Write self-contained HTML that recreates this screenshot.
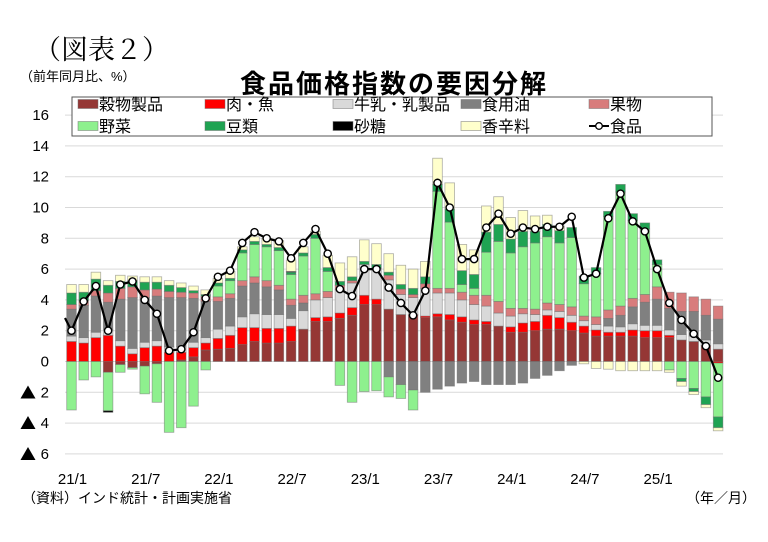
<!DOCTYPE html>
<html><head><meta charset="utf-8">
<style>
html,body{margin:0;padding:0;background:#fff;}
body{width:768px;height:542px;overflow:hidden;position:relative;font-family:"Liberation Sans","Noto Sans CJK JP",sans-serif;}
.t{position:absolute;white-space:nowrap;color:#000;}
</style></head>
<body>
<div class="t" style="left:34px;top:28px;font-size:27px;font-family:'Liberation Serif','Noto Serif CJK SC',serif;">（図表２）</div>
<div class="t" style="left:20px;top:66px;font-size:13px;">（前年同月比、%）</div>
<div class="t" style="left:240px;top:64px;font-size:26px;letter-spacing:2px;font-weight:bold;">食品価格指数の要因分解</div>
<svg id="c" width="768" height="542" style="position:absolute;left:0;top:0" xmlns="http://www.w3.org/2000/svg"></svg>
<div class="t" style="left:22px;top:488px;font-size:14px;">（資料）インド統計・計画実施省</div>
<div class="t" style="left:686px;top:488px;font-size:14px;">（年／月）</div>
<script>
var NS="http://www.w3.org/2000/svg",svg=document.getElementById('c');
function el(n,a,txt){var e=document.createElementNS(NS,n);for(var k in a)e.setAttribute(k,a[k]);if(txt!=null)e.textContent=txt;svg.appendChild(e);return e;}
function Y(v){return 361.5-v*15.4;}
function X(i){return 71.5+i*12.2;}
for(var v=-6;v<=16;v+=2){el('line',{x1:65,x2:723,y1:Y(v),y2:Y(v),stroke:'#d9d9d9','stroke-width':1});
 if(v<0){el('text',{x:36,y:Y(v)+6,'font-size':16,'text-anchor':'end','font-family':'Noto Sans CJK JP,sans-serif'},'▲');
  el('text',{x:49,y:Y(v)+5,'font-size':15,'text-anchor':'end','font-family':'Liberation Sans,sans-serif'},String(-v));}
 else el('text',{x:49,y:Y(v)+5,'font-size':15,'text-anchor':'end','font-family':'Liberation Sans,sans-serif'},String(v));}
var cols=['#953735','#ff0000','#d9d9d9','#808080','#d87c7c','#8ef08e','#1fa352','#000000','#ffffcc'];
var D=[
[0,1.3,.35,1.75,.3,-3.15,.75,0,.55],[0,1.2,.35,2.1,.3,-1.2,.55,0,.5],[0,1.55,.35,2.35,.35,-1.0,.75,0,.45],
[-.7,1.7,.35,1.8,.6,-2.5,.5,-.1,.3],[-.2,1.0,.35,2.7,.7,-.5,.45,0,.4],[-.4,.5,.35,3.3,.7,-.1,.4,0,.3],
[-.3,.9,.35,2.9,.5,-1.8,.5,0,.35],[-.15,1.0,.35,2.9,.45,-2.5,.45,0,.35],[0,.6,.35,3.2,.4,-4.6,.4,0,.3],
[.1,.5,.35,3.2,.35,-4.3,.3,0,.3],[.3,.6,.35,2.85,.35,-2.9,.15,0,.3],[.75,.45,.35,2.35,.35,-.55,.1,0,.3],
[.8,.7,.6,1.8,.3,.7,.2,0,.3],[.85,.85,.6,1.8,.3,.85,.15,0,.45],[1.1,1.1,.7,2.0,.35,1.8,.2,0,.2],
[1.3,.9,.9,2.0,.4,2.1,.2,0,.3],[1.2,.95,.9,1.8,.4,2.2,.15,0,.4],[1.2,.95,.9,1.6,.3,2.25,.2,0,.45],
[1.3,1.0,.5,.85,.4,1.6,.15,.05,.75],[2.1,0,1.2,.5,.5,2.55,.2,0,.4],[2.6,.25,1.15,0,.4,3.6,.25,0,.2],
[2.6,.3,1.25,0,.4,1.3,.25,0,.8],[2.8,.35,1.5,0,.3,-1.55,.25,0,1.2],[3.0,.5,1.6,0,.15,-2.65,.25,0,1.3],
[3.7,.6,2.0,0,0,-1.95,.2,0,1.4],[3.7,.35,2.0,0,0,-1.9,.25,0,1.35],[3.4,0,1.9,-1.0,.3,-1.3,.2,0,1.2],
[3.05,0,1.3,-1.5,.35,-.9,.3,0,1.25],[3.0,.05,1.1,-1.85,.2,-1.3,.4,0,1.25],[2.85,.1,1.8,-2.0,.3,0,.45,0,1.0],
[2.9,.2,1.35,-1.8,.3,6.3,.45,0,1.7],[2.7,.35,1.4,-1.6,.3,4.3,.85,0,1.7],[2.55,.35,1.1,-1.4,.5,.5,.9,0,1.7],
[2.4,.3,1.0,-1.3,.6,.45,.9,0,1.6],[2.4,.2,1.0,-1.5,.7,2.8,1.3,0,1.7],[2.3,0,.85,-1.5,.75,3.9,1.1,0,1.8],
[1.9,.35,.7,-1.5,.5,3.6,.9,0,1.4],[1.9,.6,.6,-1.4,.35,4.0,1.0,0,1.35],[2.0,.6,.45,-1.1,.35,4.3,.75,0,1.0],
[2.1,.9,.35,-.9,.45,4.3,.8,0,.6],[2.1,.75,.4,-.6,.45,4.0,.8,0,.3],[2.0,.55,.45,-.25,.55,4.5,.65,0,0],
[1.85,.45,.35,0,.3,2.1,.5,0,-.15],[1.65,.4,.35,0,.5,2.8,.4,0,-.45],[1.65,.25,.4,.5,.55,6.05,.35,0,-.5],
[1.65,.25,.35,.75,.6,7.4,.5,0,-.6],[1.65,.4,.4,1.1,.55,5.05,.45,0,-.6],[1.55,.45,.35,1.5,.5,4.25,.4,0,-.6],
[1.55,.45,.35,1.7,.8,1.45,.3,0,-.6],[1.55,.15,.35,1.4,1.05,-.55,0,0,-.15],[1.4,0,.35,1.5,1.2,-1.1,-.2,0,-.3],
[1.3,0,.35,1.6,.95,-1.75,-.2,0,-.2],[1.05,0,.35,1.6,1.05,-2.3,-.5,0,-.2],[.8,-.1,.35,1.6,.85,-3.5,-.7,0,-.2]];
var L=[2.0,3.9,4.9,2.0,5.0,5.2,4.0,3.1,0.7,0.8,1.9,4.1,5.5,5.9,7.7,8.4,8.0,7.8,6.7,7.7,8.6,7.0,4.7,4.25,6.0,6.0,4.8,3.8,3.0,4.6,11.6,10.0,6.65,6.65,8.7,9.6,8.3,8.7,8.6,8.75,8.75,9.4,5.45,5.7,9.3,10.9,9.1,8.45,6.0,3.8,2.7,1.8,1.0,-1.05];
var bw=9.6;
D.forEach(function(b,i){var p=0,n=0,x=X(i)-bw/2;
 b.forEach(function(v,j){if(!v)return;var y0,y1;
  if(v>0){y0=p;y1=p+v;p=y1;}else{y0=n+v;y1=n;n=y0;}
  el('rect',{x:x,y:Y(y1),width:bw,height:Y(y0)-Y(y1),fill:cols[j],stroke:'rgba(110,110,110,0.55)','stroke-width':0.8});});});
var pts=[[65,318]];L.forEach(function(v,i){pts.push([X(i),Y(v)]);});
el('polyline',{points:pts.map(function(p){return p.join(',');}).join(' '),fill:'none',stroke:'#000','stroke-width':2.2});
L.forEach(function(v,i){el('circle',{cx:X(i),cy:Y(v),r:3.6,fill:'#fff',stroke:'#000','stroke-width':1.4});});
var xl=[['21/1',0],['21/7',6],['22/1',12],['22/7',18],['23/1',24],['23/7',30],['24/1',36],['24/7',42],['25/1',48]];
xl.forEach(function(a){el('text',{x:X(a[1])+1,y:484,'font-size':15,'text-anchor':'middle','font-family':'Liberation Sans,sans-serif'},a[0]);});
el('rect',{x:72,y:97,width:640,height:39,fill:'#fff',stroke:'#555','stroke-width':1});
var lg=[['穀物製品',0,78,104],['肉・魚',1,205,104],['牛乳・乳製品',2,333,104],['食用油',3,461,104],['果物',4,589,104],
['野菜',5,78,126],['豆類',6,205,126],['砂糖',7,333,126],['香辛料',8,461,126]];
lg.forEach(function(a){el('rect',{x:a[2],y:a[3]-4.5,width:20,height:9,fill:cols[a[1]],stroke:'rgba(110,110,110,0.6)','stroke-width':0.8});
 el('text',{x:a[2]+21,y:a[3]+6,'font-size':16,'font-family':'Liberation Sans,Noto Sans CJK JP,sans-serif'},a[0]);});
el('line',{x1:589,x2:609,y1:126,y2:126,stroke:'#000','stroke-width':2});
el('circle',{cx:599,cy:126,r:3.3,fill:'#fff',stroke:'#000','stroke-width':1.3});
el('text',{x:610,y:132,'font-size':16,'font-family':'Liberation Sans,Noto Sans CJK JP,sans-serif'},'食品');
</script>
</body></html>
